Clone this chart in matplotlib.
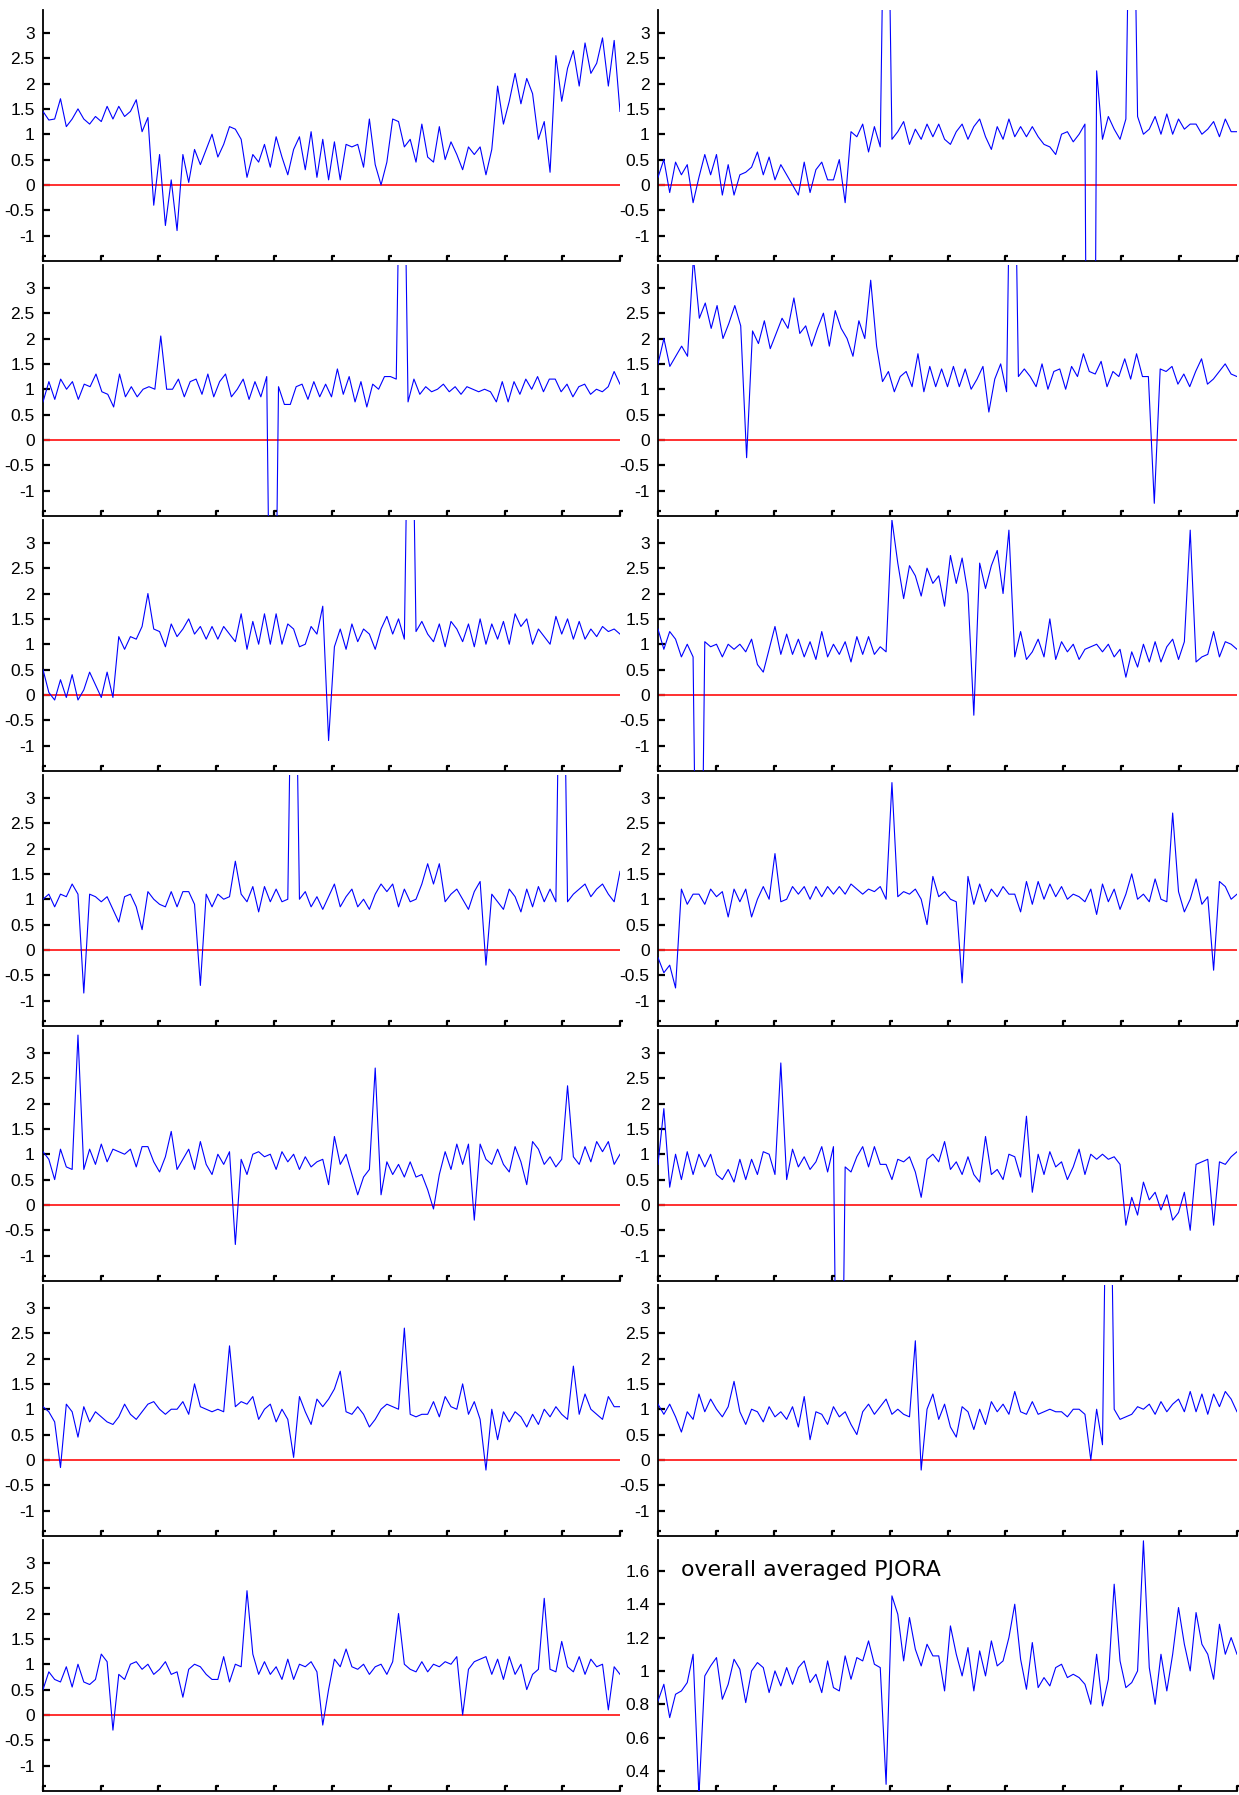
import numpy as np
import matplotlib
matplotlib.use("Agg")
import matplotlib.pyplot as plt
from matplotlib.ticker import FormatStrFormatter
from matplotlib.path import Path

# values, one list per panel (left column, right column)
s_l1 = [1.45,1.28,1.3,1.7,1.15,1.3,1.5,1.3,1.2,1.35,
        1.25,1.55,1.3,1.55,1.35,1.45,1.68,1.05,1.33,-0.4,
        0.6,-0.8,0.1,-0.9,0.6,0.05,0.7,0.4,0.7,1.0,
        0.55,0.8,1.15,1.1,0.9,0.15,0.6,0.45,0.8,0.35,
        0.95,0.55,0.2,0.7,0.95,0.3,1.05,0.15,0.9,0.1,
        0.85,0.1,0.8,0.75,0.8,0.35,1.3,0.4,0.0,0.45,
        1.3,1.25,0.75,0.9,0.45,1.2,0.55,0.45,1.15,0.5,
        0.85,0.6,0.3,0.75,0.6,0.75,0.2,0.7,1.95,1.2,
        1.65,2.2,1.6,2.1,1.8,0.9,1.25,0.25,2.55,1.65,
        2.3,2.65,1.95,2.8,2.2,2.4,2.9,1.95,2.85,1.45]
s_r1 = [0.15,0.5,-0.15,0.45,0.2,0.4,-0.35,0.15,0.6,0.2,
        0.6,-0.2,0.4,-0.2,0.2,0.25,0.35,0.65,0.2,0.55,
        0.1,0.4,0.2,0.0,-0.2,0.45,-0.15,0.3,0.45,0.1,
        0.1,0.5,-0.35,1.05,0.95,1.2,0.65,1.15,0.75,9,
        0.9,1.05,1.25,0.8,1.1,0.9,1.2,0.95,1.2,0.9,
        0.8,1.05,1.2,0.9,1.15,1.3,0.95,0.7,1.15,0.9,
        1.3,0.95,1.15,0.95,1.15,0.95,0.8,0.75,0.6,1.0,
        1.05,0.85,1.0,1.2,-20,2.25,0.9,1.35,1.1,0.9,
        1.3,9,1.35,1.0,1.1,1.35,1.0,1.4,1.0,1.3,
        1.1,1.2,1.2,1.0,1.1,1.25,0.95,1.3,1.05,1.05]
s_l2 = [0.75,1.15,0.8,1.2,1.0,1.15,0.8,1.1,1.05,1.3,
        0.95,0.9,0.65,1.3,0.85,1.05,0.85,1.0,1.05,1.0,
        2.05,1.0,1.0,1.2,0.85,1.15,1.2,0.9,1.3,0.85,
        1.15,1.3,0.85,1.0,1.2,0.8,1.15,0.85,1.25,-9,
        1.05,0.7,0.7,1.05,1.1,0.8,1.15,0.85,1.1,0.85,
        1.4,0.9,1.25,0.75,1.15,0.65,1.1,1.0,1.25,1.25,
        1.2,9,0.75,1.2,0.9,1.05,0.95,1.0,1.1,0.95,
        1.05,0.9,1.05,1.0,0.95,1.0,0.95,0.75,1.15,0.75,
        1.15,0.9,1.2,1.0,1.25,0.95,1.2,1.2,0.95,1.1,
        0.85,1.05,1.1,0.9,1.0,0.95,1.05,1.35,1.1]
s_r2 = [1.5,2.0,1.45,1.65,1.85,1.65,3.6,2.4,2.7,2.2,
        2.65,2.0,2.3,2.65,2.25,-0.35,2.15,1.9,2.35,1.8,
        2.1,2.4,2.2,2.8,2.1,2.25,1.85,2.2,2.5,1.85,
        2.55,2.2,2.0,1.65,2.35,2.0,3.15,1.85,1.15,1.35,
        0.95,1.25,1.35,1.05,1.7,0.95,1.45,1.05,1.4,1.05,
        1.45,1.05,1.4,1.0,1.2,1.45,0.55,1.2,1.5,0.95,
        9,1.25,1.4,1.25,1.05,1.5,1.0,1.35,1.4,1.0,
        1.45,1.25,1.7,1.35,1.3,1.55,1.05,1.35,1.25,1.6,
        1.2,1.7,1.25,1.25,-1.25,1.4,1.35,1.45,1.1,1.3,
        1.05,1.35,1.6,1.1,1.2,1.35,1.5,1.3,1.25]
s_l3 = [0.5,0.05,-0.1,0.3,-0.05,0.4,-0.1,0.1,0.45,0.2,
        -0.05,0.45,-0.05,1.15,0.9,1.15,1.1,1.35,2.0,1.3,
        1.25,0.95,1.4,1.15,1.3,1.5,1.2,1.35,1.1,1.35,
        1.1,1.35,1.2,1.05,1.6,0.9,1.45,1.0,1.6,1.0,
        1.6,1.0,1.4,1.3,0.95,1.0,1.35,1.2,1.75,-0.9,
        0.95,1.3,0.9,1.4,1.05,1.3,1.2,0.9,1.3,1.55,
        1.2,1.5,1.1,9,1.25,1.45,1.2,1.05,1.4,0.95,
        1.45,1.3,1.05,1.4,0.95,1.5,1.0,1.4,1.1,1.45,
        1.0,1.6,1.35,1.5,1.0,1.3,1.15,1.0,1.55,1.2,
        1.5,1.1,1.45,1.1,1.3,1.15,1.35,1.25,1.3,1.2]
s_r3 = [1.3,0.9,1.25,1.1,0.75,1.0,0.75,-9,1.05,0.95,
        1.0,0.75,1.0,0.9,1.0,0.85,1.1,0.6,0.45,0.9,
        1.35,0.8,1.2,0.8,1.1,0.75,1.05,0.7,1.25,0.75,
        1.0,0.8,1.05,0.65,1.15,0.8,1.15,0.8,0.95,0.85,
        3.45,2.6,1.9,2.55,2.35,1.95,2.5,2.2,2.35,1.75,
        2.75,2.2,2.7,2.0,-0.4,2.6,2.1,2.55,2.85,2.0,
        3.25,0.75,1.25,0.7,0.85,1.1,0.75,1.5,0.7,1.05,
        0.85,1.0,0.7,0.9,0.95,1.0,0.85,1.0,0.75,0.9,
        0.35,0.85,0.55,1.0,0.65,1.05,0.65,0.95,1.1,0.7,
        1.05,3.25,0.65,0.75,0.8,1.25,0.75,1.05,1.0,0.9]
s_l4 = [1.0,1.1,0.85,1.1,1.05,1.3,1.1,-0.85,1.1,1.05,
        0.95,1.05,0.8,0.55,1.05,1.1,0.85,0.4,1.15,1.0,
        0.9,0.85,1.15,0.85,1.15,1.15,0.9,-0.7,1.1,0.85,
        1.1,1.0,1.05,1.75,1.1,0.95,1.25,0.75,1.25,0.95,
        1.2,0.95,1.0,9,1.0,1.15,0.85,1.05,0.8,1.05,
        1.3,0.85,1.05,1.2,0.85,1.0,0.8,1.1,1.3,1.15,
        1.3,0.85,1.2,0.95,1.0,1.3,1.7,1.3,1.7,0.95,
        1.1,1.2,1.0,0.8,1.15,1.35,-0.3,1.1,0.95,0.8,
        1.2,1.05,0.75,1.2,0.85,1.25,0.95,1.2,0.95,9,
        0.95,1.1,1.2,1.3,1.05,1.2,1.3,1.1,0.95,1.55]
s_r4 = [-0.15,-0.45,-0.3,-0.75,1.2,0.9,1.1,1.1,0.9,1.2,
        1.05,1.15,0.65,1.2,0.95,1.2,0.65,1.0,1.25,1.0,
        1.9,0.95,1.0,1.25,1.1,1.25,1.0,1.25,1.05,1.25,
        1.1,1.25,1.1,1.3,1.2,1.1,1.2,1.15,1.25,1.0,
        3.3,1.05,1.15,1.1,1.2,1.0,0.5,1.45,1.05,1.15,
        1.0,0.95,-0.65,1.45,0.9,1.3,0.95,1.2,1.05,1.25,
        1.1,1.1,0.75,1.35,0.9,1.35,1.0,1.3,1.05,1.25,
        1.0,1.1,1.05,0.95,1.2,0.7,1.3,0.95,1.2,0.8,
        1.1,1.5,1.0,1.1,0.95,1.4,1.0,0.95,2.7,1.15,
        0.75,1.0,1.4,0.9,1.05,-0.4,1.35,1.25,1.0,1.1]
s_l5 = [1.05,0.9,0.5,1.1,0.75,0.7,3.35,0.7,1.1,0.8,
        1.2,0.85,1.1,1.05,1.0,1.1,0.75,1.15,1.15,0.85,
        0.65,0.95,1.45,0.7,0.9,1.1,0.7,1.25,0.8,0.6,
        1.0,0.8,1.05,-0.78,0.9,0.6,1.0,1.05,0.95,1.0,
        0.7,1.05,0.85,1.0,0.7,0.95,0.75,0.85,0.9,0.4,
        1.35,0.8,1.0,0.6,0.2,0.55,0.7,2.7,0.2,0.85,
        0.6,0.8,0.55,0.85,0.55,0.6,0.3,-0.08,0.6,1.05,
        0.7,1.2,0.8,1.2,-0.3,1.2,0.9,0.8,1.1,0.8,
        0.65,1.15,0.85,0.4,1.25,1.1,0.8,0.95,0.75,0.9,
        2.35,0.95,0.8,1.15,0.85,1.25,1.05,1.25,0.8,1.0]
s_r5 = [0.8,1.9,0.35,1.0,0.5,1.05,0.6,1.0,0.75,1.0,
        0.6,0.5,0.7,0.45,0.9,0.5,0.9,0.6,1.05,1.0,
        0.6,2.8,0.5,1.1,0.75,0.95,0.7,0.85,1.15,0.65,
        1.15,-9,0.75,0.65,0.95,1.15,0.75,1.15,0.8,0.8,
        0.5,0.9,0.85,0.95,0.65,0.15,0.9,1.0,0.85,1.25,
        0.7,0.85,0.6,0.95,0.6,0.45,1.35,0.6,0.7,0.5,
        1.0,0.95,0.55,1.75,0.25,1.0,0.6,1.05,0.75,0.85,
        0.5,0.75,1.1,0.6,1.0,0.9,1.0,0.9,0.95,0.8,
        -0.4,0.15,-0.2,0.45,0.1,0.25,-0.1,0.2,-0.3,-0.15,
        0.25,-0.5,0.8,0.85,0.9,-0.4,0.85,0.8,0.95,1.05]
s_l6 = [1.05,0.95,0.75,-0.15,1.1,0.95,0.45,1.05,0.75,0.95,
        0.85,0.75,0.7,0.85,1.1,0.9,0.8,0.95,1.1,1.15,
        1.0,0.9,1.0,1.0,1.15,0.9,1.5,1.05,1.0,0.95,
        1.0,0.95,2.25,1.05,1.15,1.1,1.25,0.8,1.0,1.1,
        0.75,1.0,0.8,0.05,1.25,0.95,0.7,1.2,1.05,1.2,
        1.4,1.75,0.95,0.9,1.05,0.9,0.65,0.8,1.0,1.1,
        1.05,1.0,2.6,0.9,0.85,0.9,0.9,1.15,0.85,1.25,
        1.05,1.0,1.5,0.9,1.15,0.8,-0.2,1.0,0.4,0.95,
        0.75,0.95,0.85,0.65,0.9,0.7,1.0,0.85,1.05,0.9,
        0.8,1.85,0.9,1.3,1.0,0.9,0.8,1.25,1.05,1.05]
s_r6 = [1.1,0.9,1.1,0.85,0.55,0.95,0.8,1.3,0.95,1.2,
        1.0,0.85,1.05,1.55,0.95,0.7,1.0,0.95,0.75,1.05,
        0.85,0.95,0.8,1.05,0.65,1.25,0.4,0.95,0.9,0.7,
        1.05,0.85,0.95,0.7,0.5,0.95,1.1,0.9,1.05,1.2,
        0.9,1.0,0.9,0.85,2.35,-0.2,1.0,1.3,0.8,1.1,
        0.65,0.45,1.05,0.95,0.6,1.0,0.7,1.15,0.95,1.1,
        0.9,1.35,0.95,0.9,1.15,0.9,0.95,1.0,0.95,0.95,
        0.85,1.0,1.0,0.9,0.0,1.0,0.3,9,1.0,0.8,
        0.85,0.9,1.05,1.0,1.1,0.9,1.15,0.95,1.1,1.2,
        0.95,1.35,0.95,1.3,0.9,1.3,1.05,1.35,1.2,0.95]
s_l7 = [0.5,0.85,0.7,0.65,0.95,0.55,1.0,0.65,0.6,0.7,
        1.2,1.05,-0.3,0.8,0.7,1.0,1.05,0.9,1.0,0.8,
        0.9,1.05,0.8,0.85,0.35,0.9,1.0,0.95,0.8,0.7,
        0.7,1.15,0.65,1.0,0.95,2.45,1.2,0.8,1.05,0.8,
        0.95,0.7,1.1,0.7,1.0,0.95,1.05,0.85,-0.2,0.5,
        1.1,0.95,1.3,0.95,0.9,1.0,0.8,0.95,1.0,0.8,
        1.05,2.0,1.0,0.9,0.85,1.05,0.85,1.0,0.95,1.05,
        1.0,1.15,0.0,0.9,1.05,1.1,1.15,0.8,1.1,0.7,
        1.15,0.8,1.0,0.5,0.8,0.9,2.3,0.9,0.85,1.45,
        0.95,0.85,1.15,0.8,1.1,0.95,1.0,0.1,0.95,0.8]
# overall averaged PJORA
s_avg = [0.82,0.92,0.72,0.86,0.88,0.93,1.1,0.25,0.97,1.03,
         1.08,0.83,0.92,1.07,1.01,0.81,1.0,1.05,1.02,0.87,
         1.0,0.91,1.02,0.92,1.02,1.06,0.93,0.98,0.87,1.06,
         0.9,0.88,1.09,0.95,1.08,1.06,1.18,1.04,1.02,0.32,
         1.45,1.34,1.06,1.32,1.13,1.03,1.16,1.09,1.09,0.88,
         1.27,1.1,0.97,1.14,0.88,1.12,0.97,1.18,1.03,1.06,
         1.2,1.4,1.07,0.89,1.17,0.9,0.96,0.91,1.02,1.04,
         0.96,0.98,0.96,0.92,0.8,1.1,0.79,0.95,1.52,1.06,
         0.9,0.93,1.0,1.78,1.02,0.8,1.1,0.88,1.1,1.38,
         1.16,1.0,1.35,1.16,1.1,0.95,1.28,1.1,1.2,1.1]

left = [s_l1, s_l2, s_l3, s_l4, s_l5, s_l6, s_l7]
right = [s_r1, s_r2, s_r3, s_r4, s_r5, s_r6, s_avg]
yticks_main = [-1, -0.5, 0, 0.5, 1, 1.5, 2, 2.5, 3]
yticks_avg = [0.4, 0.6, 0.8, 1.0, 1.2, 1.4, 1.6]
avg_label = "overall averaged PJORA"

W, H = 1239, 1795
fig = plt.figure(figsize=(W / 100, H / 100), dpi=100)
plt.rcParams['font.family'] = ['Liberation Sans', 'DejaVu Sans']

# little hooked x tick: up, then a short step to the right
hook = Path([(0, 0), (0, 1), (0.7, 1)],
            [Path.MOVETO, Path.LINETO, Path.LINETO])


def panel(x0, x1, row, vals, is_avg=False):
    top = 10 + 255 * row
    bot = 261 + 255 * row
    ax = fig.add_axes([x0 / W, 1 - bot / H, (x1 - x0) / W, (bot - top) / H])
    x = np.linspace(0, 1, len(vals))
    ax.plot(x, vals, color='#0000ff', lw=0.8, zorder=3)
    if is_avg:
        ax.set_ylim(0.28, 1.785)
        ax.set_yticks(yticks_avg)
        ax.text(0.04, 0.88, avg_label, transform=ax.transAxes, fontsize=15.8,
                family='DejaVu Sans', va='center')
    else:
        ax.axhline(0, color='#ff2020', lw=1.3, zorder=2)
        ax.set_ylim(-1.5, 3.45)
        ax.set_yticks(yticks_main)
    ax.set_xlim(0, 1)
    xt = np.linspace(0, 1, 11)
    ax.set_xticks(xt)
    ax.set_xticklabels([])
    ax.plot(xt, np.zeros_like(xt), transform=ax.get_xaxis_transform(),
            ls='none', marker=hook, ms=7, mfc='none', mec='k', mew=1.6,
            clip_on=False, zorder=4)
    ax.yaxis.set_major_formatter(FormatStrFormatter('%g'))
    for s in ['top', 'right']:
        ax.spines[s].set_visible(False)
    for s in ['left', 'bottom']:
        ax.spines[s].set_linewidth(1.3)
    ax.tick_params(axis='x', length=0)
    ax.tick_params(axis='y', direction='in', length=5, width=1.6,
                   labelsize=12.5, pad=6)
    return ax


for r in range(7):
    panel(43, 620, r, left[r])
    panel(658, 1237, r, right[r], is_avg=(r == 6))

fig.savefig("out.png", dpi=100)
